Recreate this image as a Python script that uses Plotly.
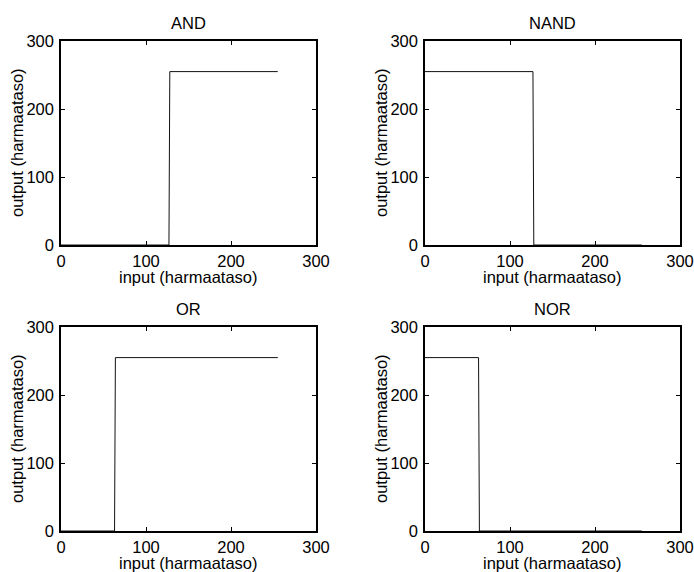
import plotly.graph_objects as go

W, H = 694, 572

titles = ["AND", "NAND", "OR", "NOR"]
and_x = [0, 127, 128, 255]
and_y = [0, 0, 255, 255]
nand_x = [0, 127, 128, 255]
nand_y = [255, 255, 0, 0]
or_x = [0, 63, 64, 255]
or_y = [0, 0, 255, 255]
nor_x = [0, 63, 64, 255]
nor_y = [255, 255, 0, 0]
tick_vals = [0, 100, 200, 300]
tick_text = ["0", "100", "200", "300"]
xlabel = "input (harmaataso)"
ylabel = "output (harmaataso)"

series = [(and_x, and_y), (nand_x, nand_y), (or_x, or_y), (nor_x, nor_y)]

# pixel boxes: (left, right, top, bottom)
boxes = [(61, 316, 41, 245), (425, 680, 41, 245),
         (61, 316, 327, 531), (425, 680, 327, 531)]

font = dict(family="Liberation Sans, Arial, sans-serif", size=16.5, color="black")

fig = go.Figure()
layout = dict(
    width=W, height=H, margin=dict(l=0, r=0, t=0, b=0, pad=0, autoexpand=False),
    paper_bgcolor="white", plot_bgcolor="white", showlegend=False,
    font=font,
)
annotations = []
for i, ((xs, ys), (l, r, t, b)) in enumerate(zip(series, boxes)):
    n = i + 1
    xa = "x" if n == 1 else f"x{n}"
    ya = "y" if n == 1 else f"y{n}"
    fig.add_trace(go.Scatter(x=xs, y=ys, mode="lines", xaxis=xa, yaxis=ya,
                             line=dict(color="#111111", width=1), hoverinfo="skip"))
    axcommon = dict(range=[0, 300], tickvals=tick_vals, ticktext=tick_text,
                    ticks="inside", ticklen=4, tickwidth=1, tickcolor="black",
                    showline=True, linecolor="black", linewidth=1.5, mirror="allticks",
                    showgrid=False, zeroline=False, fixedrange=True, tickfont=font,
                    automargin=False)
    layout["xaxis" if n == 1 else f"xaxis{n}"] = dict(
        domain=[l / W, r / W], anchor=ya, ticklabelstandoff=0, **axcommon)
    layout["yaxis" if n == 1 else f"yaxis{n}"] = dict(
        domain=[1 - b / H, 1 - t / H], anchor=xa, ticklabelstandoff=2, **axcommon)
    cx = (l + r) / 2
    annotations.append(dict(text=titles[i], x=cx / W, y=1 - (t - 18.5) / H,
                            xref="paper", yref="paper", showarrow=False,
                            xanchor="center", yanchor="middle", font=font))
    annotations.append(dict(text=xlabel, x=cx / W, y=1 - (b + 32) / H,
                            xref="paper", yref="paper", showarrow=False,
                            xanchor="center", yanchor="middle", font=font))
    annotations.append(dict(text=ylabel, x=(l - 44) / W, y=1 - ((t + b) / 2) / H,
                            xref="paper", yref="paper", showarrow=False, textangle=-90,
                            xanchor="center", yanchor="middle", font=font))
layout["annotations"] = annotations
fig.update_layout(**layout)
fig.write_html("out.html", config={"displayModeBar": False},
               post_script="document.body.style.margin='0';document.body.style.overflow='hidden';")
